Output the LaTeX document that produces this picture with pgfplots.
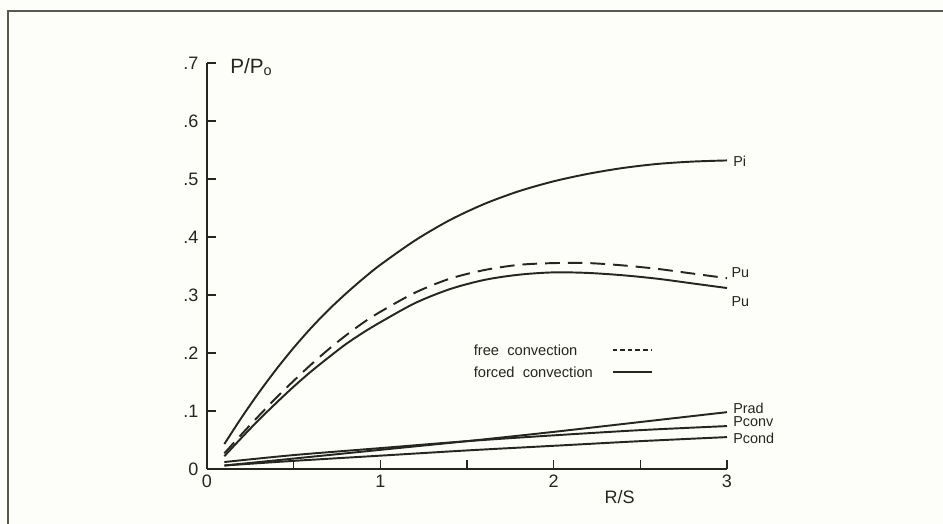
\documentclass[border=0pt]{standalone}
\usepackage{pgfplots}
\pgfplotsset{compat=1.18}
\usepackage{fontspec}
\setmainfont{Liberation Sans}
\definecolor{ink}{HTML}{262620}
\definecolor{bg}{HTML}{FDFDF9}
\definecolor{framec}{HTML}{5A5A50}
\begin{document}
\begin{tikzpicture}
\path[use as bounding box, fill=bg] (-155.25pt,-41.25pt) rectangle (552pt,351.75pt);
\draw[framec, line width=1.5pt] (-149.25pt,-42pt) -- (-149.25pt,343.5pt) -- (553pt,343.5pt);
\begin{axis}[
  scale only axis,
  width=390pt, height=304.5pt,
  xmin=0, xmax=3, ymin=0, ymax=0.7,
  axis x line=bottom, axis y line=left,
  axis line style={ink, line width=1.3pt, -},
  clip=false,
  xtick={0,0.5,1,1.5,2,2.5,3},
  xticklabels={0,,1,,2,,3},
  ytick={0,0.1,0.2,0.3,0.4,0.5,0.6,0.7},
  yticklabels={0,.1,.2,.3,.4,.5,.6,.7},
  tick align=inside,
  major tick length=7pt,
  tick style={ink, line width=1.1pt},
  /pgf/number format/assume math mode=true,
  ticklabel style={font=\fontsize{13.5}{14}\selectfont, text=ink},
  yticklabel style={xshift=-3pt},
  xticklabel style={yshift=-1pt},
  every axis plot/.append style={ink, line width=1.45pt},
]
% Pi
\addplot[solid, smooth, tension=0.5] coordinates {
(0.1,0.043)(0.2,0.089)(0.3,0.132)(0.4,0.172)(0.5,0.209)(0.6,0.243)(0.7,0.274)(0.8,0.302)(0.9,0.328)(1.0,0.352)
(1.2,0.394)(1.4,0.429)(1.6,0.457)(1.8,0.479)(2.0,0.496)(2.2,0.509)(2.4,0.519)(2.6,0.526)(2.8,0.530)(3.0,0.532)};
% Pu free convection (dashed)
\addplot[smooth, tension=0.5, dash pattern=on 11pt off 6pt] coordinates {
(0.1,0.027)(0.2,0.060)(0.3,0.092)(0.4,0.123)(0.5,0.152)(0.6,0.180)(0.7,0.206)(0.8,0.230)(0.9,0.252)(1.0,0.271)
(1.2,0.304)(1.4,0.328)(1.6,0.343)(1.8,0.352)(2.0,0.355)(2.2,0.355)(2.4,0.351)(2.6,0.345)(2.8,0.337)(3.0,0.329)};
% Pu forced convection
\addplot[solid, smooth, tension=0.5] coordinates {
(0.1,0.022)(0.2,0.054)(0.3,0.085)(0.4,0.114)(0.5,0.142)(0.6,0.168)(0.7,0.192)(0.8,0.215)(0.9,0.235)(1.0,0.253)
(1.2,0.286)(1.4,0.310)(1.6,0.326)(1.8,0.335)(2.0,0.339)(2.2,0.338)(2.4,0.334)(2.6,0.328)(2.8,0.320)(3.0,0.312)};
% Prad
\addplot[solid, smooth, tension=0.5] coordinates {(0.1,0.006)(0.5,0.018)(1.0,0.033)(1.5,0.048)(2.0,0.064)(2.5,0.081)(3.0,0.098)};
% Pconv
\addplot[solid, smooth, tension=0.5] coordinates {(0.1,0.012)(0.5,0.024)(1.0,0.036)(1.5,0.048)(2.0,0.058)(2.5,0.067)(3.0,0.074)};
% Pcond
\addplot[solid, smooth, tension=0.5] coordinates {(0.1,0.006)(0.5,0.014)(1.0,0.023)(1.5,0.032)(2.0,0.040)(2.5,0.048)(3.0,0.055)};
% legend
\addplot[line width=1.1pt, dash pattern=on 3.5pt off 2.2pt] coordinates {(2.34,0.205)(2.57,0.205)};
\addplot[line width=1.4pt] coordinates {(2.34,0.167)(2.57,0.167)};
\node[anchor=west, text=ink, font=\fontsize{11}{12}\selectfont, inner sep=0pt] at (axis cs:1.538,0.205) {free\ \ convection};
\node[anchor=west, text=ink, font=\fontsize{11}{12}\selectfont, inner sep=0pt] at (axis cs:1.538,0.167) {forced\ \ convection};
% curve labels
\begin{scope}[every node/.style={anchor=west, text=ink, font=\fontsize{10.8}{12}\selectfont, inner sep=0pt}]
\node at (axis cs:3.035,0.531) {Pi};
\node at (axis cs:3.025,0.338) {Pu};
\node at (axis cs:3.025,0.288) {Pu};
\node at (axis cs:3.035,0.105) {Prad};
\node at (axis cs:3.035,0.081) {Pconv};
\node at (axis cs:3.035,0.052) {Pcond};
\end{scope}
% axis labels
\node[anchor=west, text=ink, font=\fontsize{15.5}{17}\selectfont, inner sep=0pt] at (axis cs:0.133,0.693) {P/P\textsubscript{o}};
\node[text=ink, font=\fontsize{13.5}{15}\selectfont, inner sep=0pt] at (axis cs:2.38,-0.048) {R/S};
\end{axis}
\end{tikzpicture}
\end{document}
